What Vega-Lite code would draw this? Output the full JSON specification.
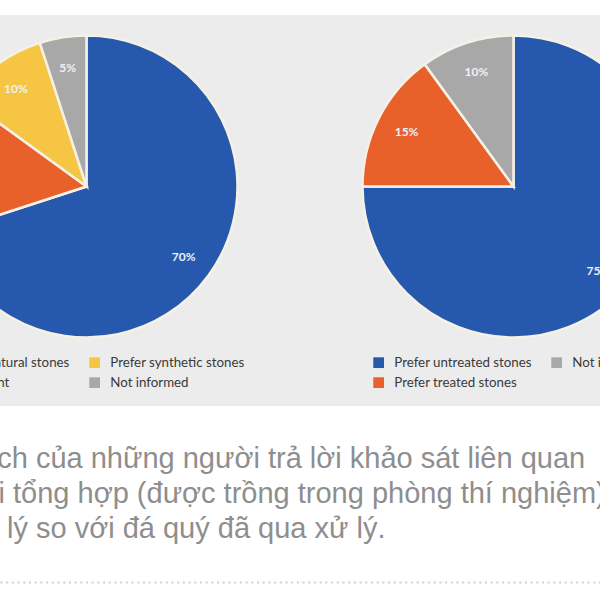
{
  "$schema": "https://vega.github.io/schema/vega-lite/v6.json",
  "width": 600,
  "height": 391,
  "autosize": {"type": "none"},
  "padding": {"top": 15, "bottom": 194, "left": 0, "right": 0},
  "background": "#ffffff",
  "config": {"view": {"fill": "#ececec", "stroke": null}},
  "title": {
    "text": ["thích của những người trả lời khảo sát liên quan", "với tổng hợp (được trồng trong phòng thí nghiệm)", "xử lý so với đá quý đã qua xử lý."],
    "orient": "bottom",
    "anchor": "start",
    "frame": "group",
    "font": "Liberation Sans",
    "fontSize": 29,
    "fontWeight": "normal",
    "color": "#8e8e8e",
    "lineHeight": 35,
    "baseline": "alphabetic",
    "offset": -114,
    "dx": -35
  },
  "data": {
    "values": [
      {"survey": "gem", "category": "Prefer natural stones", "pct": 0.70},
      {"survey": "gem", "category": "Indifferent", "pct": 0.15},
      {"survey": "gem", "category": "Prefer synthetic stones", "pct": 0.10},
      {"survey": "gem", "category": "Not informed", "pct": 0.05},
      {"survey": "treat", "category": "Prefer untreated stones", "pct": 0.75},
      {"survey": "treat", "category": "Prefer treated stones", "pct": 0.15},
      {"survey": "treat", "category": "Not informed", "pct": 0.10}
    ]
  },
  "encoding": {
    "x": {
      "field": "survey",
      "type": "nominal",
      "scale": {"type": "point", "domain": ["gem", "treat"], "padding": 0.2026},
      "axis": {"orient": "bottom", "offset": 176, "labels": false, "ticks": false, "title": null, "grid": false, "domainColor": "#d0d0d0", "domainWidth": 2, "domainDash": [2, 3.7], "domainCap": "butt"}
    }
  },
  "layer": [
    {
      "transform": [{"filter": "datum.survey === 'gem'"}],
      "mark": {"type": "arc", "outerRadius": 151, "stroke": "#f6f1e6", "strokeWidth": 2.5, "yOffset": -24},
      "encoding": {
        "theta": {"field": "pct", "type": "quantitative", "stack": true},
        "order": {"field": "pct", "sort": "descending"},
        "color": {
          "field": "category",
          "type": "nominal",
          "scale": {"domain": ["Prefer natural stones", "Indifferent", "Prefer synthetic stones", "Not informed"], "range": ["#2659ad", "#e8602a", "#f5c543", "#a8a8a9"]},
          "legend": {"orient": "none", "legendX": -74, "legendY": 341, "columns": 2, "title": null, "symbolType": "square", "symbolSize": 115, "symbolStrokeWidth": 0, "labelFont": "Lato", "labelFontSize": 13.3, "labelColor": "#3a3a3a", "labelOffset": 9, "columnPadding": 18, "rowPadding": 6, "padding": 0}
        }
      }
    },
    {
      "transform": [{"filter": "datum.survey === 'gem'"}],
      "mark": {"type": "text", "radius": 120, "yOffset": -24, "font": "Lato", "fontWeight": "bold", "fontSize": 12, "color": "#eef1f6"},
      "encoding": {
        "theta": {"field": "pct", "type": "quantitative", "stack": true},
        "order": {"field": "pct", "sort": "descending"},
        "text": {"field": "pct", "type": "quantitative", "format": ".0%"}
      }
    },
    {
      "transform": [{"filter": "datum.survey === 'treat'"}],
      "mark": {"type": "arc", "outerRadius": 151, "stroke": "#f6f1e6", "strokeWidth": 2.5, "yOffset": -24},
      "encoding": {
        "theta": {"field": "pct", "type": "quantitative", "stack": true},
        "order": {"field": "pct", "sort": "descending"},
        "color": {
          "field": "category",
          "type": "nominal",
          "scale": {"domain": ["Prefer untreated stones", "Prefer treated stones", "Not informed"], "range": ["#2659ad", "#e8602a", "#a8a8a9"]},
          "legend": {"orient": "none", "legendX": 372, "legendY": 341, "columns": 2, "title": null, "symbolType": "square", "symbolSize": 115, "symbolStrokeWidth": 0, "labelFont": "Lato", "labelFontSize": 13.3, "labelColor": "#3a3a3a", "labelOffset": 9, "columnPadding": 18, "rowPadding": 6, "padding": 0}
        }
      }
    },
    {
      "transform": [{"filter": "datum.survey === 'treat'"}],
      "mark": {"type": "text", "radius": 120, "yOffset": -24, "font": "Lato", "fontWeight": "bold", "fontSize": 12, "color": "#eef1f6"},
      "encoding": {
        "theta": {"field": "pct", "type": "quantitative", "stack": true},
        "order": {"field": "pct", "sort": "descending"},
        "text": {"field": "pct", "type": "quantitative", "format": ".0%"}
      }
    }
  ],
  "resolve": {"scale": {"color": "independent"}, "legend": {"color": "independent"}}
}
